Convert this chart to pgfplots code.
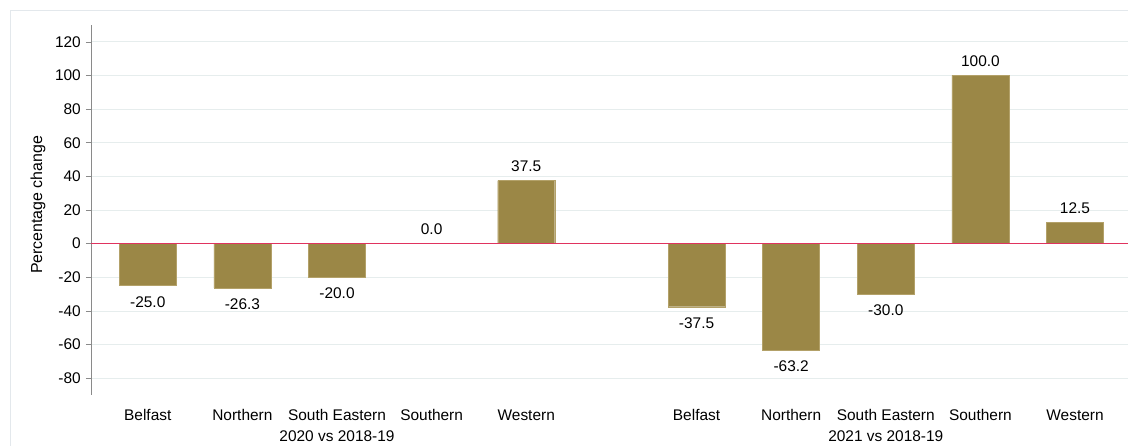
\documentclass[border=0pt]{standalone}
\usepackage{fontspec}
\setmainfont{Liberation Sans}
\usepackage{pgfplots}
\usepackage{pgfplotstable}
\pgfplotsset{compat=1.18}
\definecolor{barfill}{HTML}{9B8746}
\definecolor{baredge}{HTML}{B3A169}
\definecolor{zeroline}{HTML}{E0335F}
\definecolor{gridline}{HTML}{E6EDED}
\definecolor{axisgray}{HTML}{8A8A8A}
\definecolor{framecol}{HTML}{E3E8EC}
\newcommand{\lbl}{\fontsize{15.5}{18}\selectfont}

% negative bars (label below)
\pgfplotstableread{
x y lab
0 -25.0 -25.0
1 -26.3 -26.3
2 -20.0 -20.0
5.8 -37.5 -37.5
6.8 -63.2 -63.2
7.8 -30.0 -30.0
}\negdata

% zero / positive bars (label above)
\pgfplotstableread{
x y lab
3 0.0 0.0
4 37.5 37.5
8.8 100.0 100.0
9.8 12.5 12.5
}\posdata

\begin{document}
\begin{tikzpicture}
\begin{axis}[
    scale only axis,
    width=1037bp, height=370bp,
    xmin=-0.6, xmax=10.36,
    ymin=-90, ymax=130,
    ybar, bar shift=0pt, bar width=57bp,
    axis x line*=bottom,
    axis y line*=left,
    x axis line style={draw=none},
    y axis line style={draw=axisgray, line width=0.8pt},
    xtick={0,1,2,3,4,5.8,6.8,7.8,8.8,9.8},
    xticklabels={Belfast,Northern,South Eastern,Southern,Western,Belfast,Northern,South Eastern,Southern,Western},
    xtick style={draw=none},
    xticklabel style={anchor=base, inner sep=0pt, yshift=-20.5bp},
    ytick={-80,-60,...,120},
    ytick style={draw=axisgray, line width=0.6pt},
    tick align=outside,
    major tick length=5bp,
    yticklabel style={anchor=east, inner sep=0pt, xshift=-5bp},
    tick label style={font=\lbl},
    /pgf/number format/assume math mode=true,
    ymajorgrids,
    grid style={draw=gridline, line width=0.8pt},
    ylabel={Percentage change},
    every axis y label/.style={at={(rel axis cs:0,0.514)}, rotate=90, anchor=center, yshift=53bp, font=\fontsize{16}{19}\selectfont},
    point meta=explicit symbolic,
    clip=false,
]
\addplot[fill=barfill, draw=baredge, line width=0.4pt,
    nodes near coords,
    every node near coord/.style={anchor=base, inner sep=0pt, yshift=-21.5bp, font=\lbl, text=black}]
    table[x=x, y=y, meta=lab] {\negdata};
\addplot[fill=barfill, draw=baredge, line width=0.4pt,
    nodes near coords,
    every node near coord/.style={anchor=base, inner sep=0pt, yshift=9bp, font=\lbl, text=black}]
    table[x=x, y=y, meta=lab] {\posdata};
\draw[zeroline, line width=1pt] (axis cs:-0.6,0) -- (axis cs:10.36,0);
\node[anchor=base, font=\lbl] at ([yshift=-46.5bp]axis cs:2,-90) {2020 vs 2018-19};
\node[anchor=base, font=\lbl] at ([yshift=-46.5bp]axis cs:7.8,-90) {2021 vs 2018-19};
\end{axis}
\draw[framecol, line width=0.8pt] ([shift={(-81bp,-60bp)}]current axis.south west) |- ([shift={(10bp,15bp)}]current axis.north east);
\pgfresetboundingbox
\path[use as bounding box] ([shift={(-91bp,-51bp)}]current axis.south west) rectangle ([shift={(0bp,25bp)}]current axis.north east);
\end{tikzpicture}
\end{document}
